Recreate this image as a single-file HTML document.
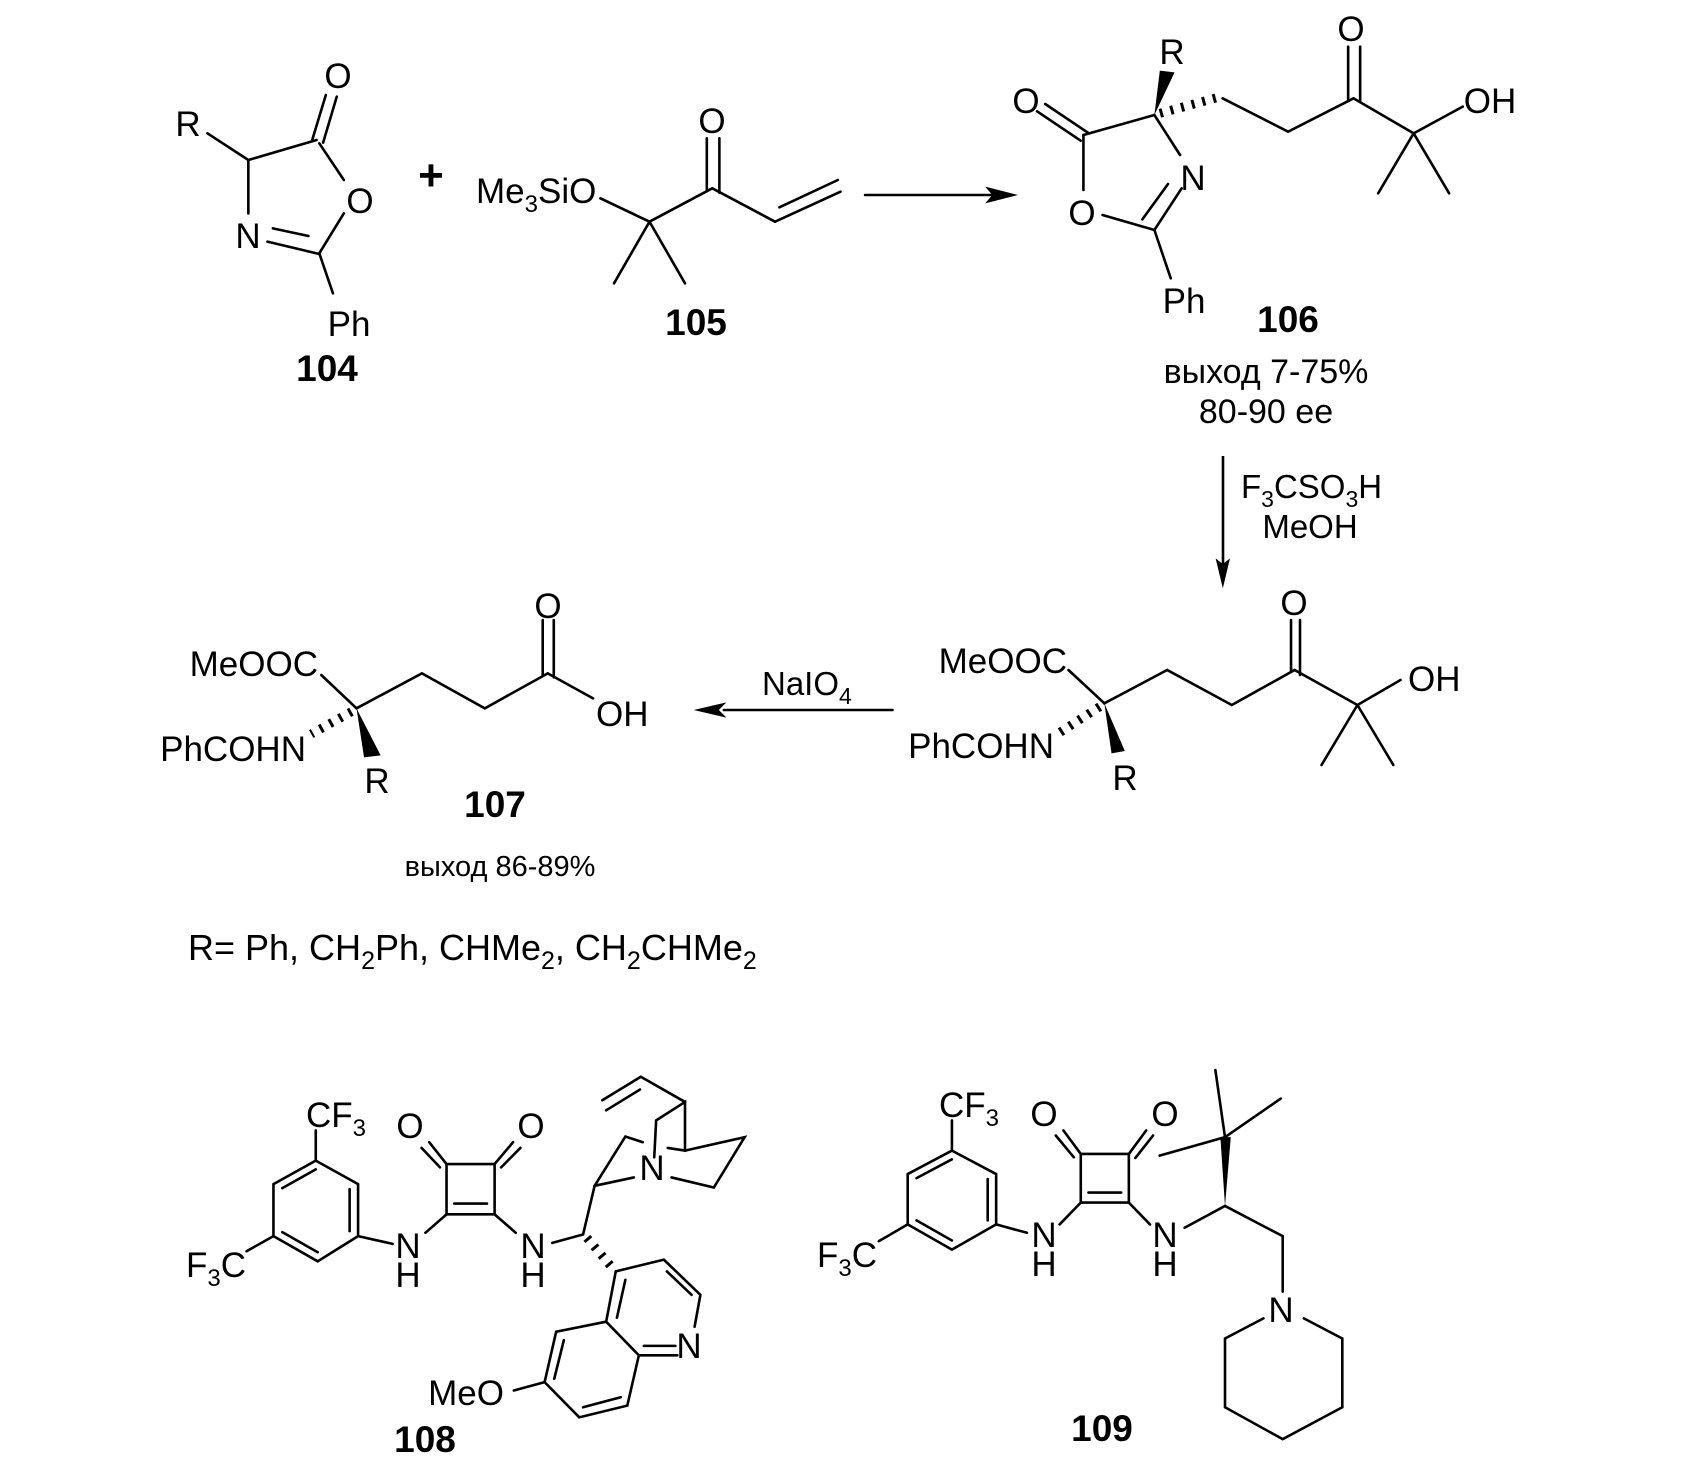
<!DOCTYPE html>
<html><head><meta charset="utf-8"><style>
html,body{margin:0;padding:0;background:#fff}
svg text{font-family:"Liberation Sans",Arial,sans-serif;fill:#000}
.l line,.l polyline,.l polygon.o{stroke:#000;stroke-width:2.6;fill:none;vector-effect:non-scaling-stroke;stroke-linecap:round}
.l .h{stroke-dasharray:3 8;stroke-width:9;stroke-linecap:butt}
.f{fill:#000;stroke:none}
.b{font-weight:bold}
</style></head><body>
<svg width="1692" height="1468" viewBox="0 0 1692 1468" xmlns="http://www.w3.org/2000/svg">

<!-- R1: 104 + 105 -->
<svg x="0" y="0" width="846" height="500" viewBox="0 0 1550 1500" preserveAspectRatio="none" class="l">
<line x1="380" y1="400" x2="455" y2="480"/>
<line x1="455" y1="480" x2="580" y2="420"/>
<line x1="572" y1="420" x2="597" y2="285"/>
<line x1="592" y1="428" x2="617" y2="290"/>
<line x1="585" y1="430" x2="630" y2="540"/>
<line x1="630" y1="640" x2="585" y2="760"/>
<line x1="490" y1="725" x2="585" y2="762"/>
<line x1="500" y1="685" x2="565" y2="708"/>
<line x1="455" y1="640" x2="455" y2="480"/>
<line x1="585" y1="760" x2="610" y2="880"/>
<line x1="1100" y1="595" x2="1190" y2="665"/>
<line x1="1190" y1="665" x2="1125" y2="850"/>
<line x1="1190" y1="665" x2="1255" y2="850"/>
<line x1="1190" y1="665" x2="1305" y2="565"/>
<line x1="1295" y1="568" x2="1295" y2="415"/>
<line x1="1318" y1="578" x2="1318" y2="415"/>
<line x1="1305" y1="565" x2="1420" y2="665"/>
<line x1="1420" y1="665" x2="1540" y2="575"/>
<line x1="1428" y1="622" x2="1535" y2="540"/>
</svg>
<text x="188" y="136" font-size="35" text-anchor="middle">R</text>
<text x="338" y="88" font-size="35" text-anchor="middle">O</text>
<text x="360" y="213" font-size="35" text-anchor="middle">O</text>
<text x="248" y="248" font-size="35" text-anchor="middle">N</text>
<text x="349" y="336" font-size="35" text-anchor="middle">Ph</text>
<text x="327" y="381" font-size="37" text-anchor="middle" class="b">104</text>
<text x="431" y="190" font-size="44" text-anchor="middle" class="b">+</text>
<text x="476" y="203" font-size="35">Me<tspan font-size="24" dy="9">3</tspan><tspan dy="-9">SiO</tspan></text>
<text x="712" y="133" font-size="35" text-anchor="middle">O</text>
<text x="696" y="335" font-size="37" text-anchor="middle" class="b">105</text>

<!-- R2: arrow + 106 -->
<svg x="846" y="0" width="846" height="500" viewBox="0 0 1550 1500" preserveAspectRatio="none" class="l">
<line x1="35" y1="585" x2="270" y2="585"/>
<polygon class="f" points="315,585 255,560 268,585 255,610"/>
<polygon class="f" points="565,345 575,212 602,217"/>
<line class="h" x1="575" y1="340" x2="682" y2="292"/>
<polyline points="690,295 810,395 930,295"/>
<line x1="920" y1="300" x2="920" y2="140"/>
<line x1="942" y1="305" x2="942" y2="140"/>
<polyline points="930,295 1040,400 1130,320"/>
<line x1="1040" y1="400" x2="975" y2="580"/>
<line x1="1040" y1="400" x2="1105" y2="580"/>
<line x1="435" y1="405" x2="565" y2="345"/>
<line x1="445" y1="400" x2="365" y2="312"/>
<line x1="430" y1="422" x2="350" y2="334"/>
<line x1="435" y1="405" x2="435" y2="570"/>
<line x1="470" y1="645" x2="565" y2="690"/>
<line x1="565" y1="690" x2="615" y2="565"/>
<line x1="543" y1="658" x2="590" y2="552"/>
<line x1="612" y1="465" x2="565" y2="345"/>
<line x1="565" y1="690" x2="595" y2="835"/>
</svg>
<text x="1172" y="64" font-size="35" text-anchor="middle">R</text>
<text x="1026" y="113" font-size="35" text-anchor="middle">O</text>
<text x="1082" y="225" font-size="35" text-anchor="middle">O</text>
<text x="1193" y="190" font-size="35" text-anchor="middle">N</text>
<text x="1351" y="41" font-size="35" text-anchor="middle">O</text>
<text x="1490" y="113" font-size="35" text-anchor="middle">OH</text>
<text x="1184" y="313" font-size="35" text-anchor="middle">Ph</text>
<text x="1288" y="332" font-size="37" text-anchor="middle" class="b">106</text>
<text x="1266" y="383" font-size="34" text-anchor="middle">выход 7-75%</text>
<text x="1266" y="423" font-size="34" text-anchor="middle">80-90 ee</text>

<!-- vertical arrow -->
<line x1="1223" y1="456" x2="1223" y2="578" stroke="#000" stroke-width="2.6"/>

<!-- R6: intermediate -->
<svg x="880" y="440" width="560" height="380" viewBox="0 0 1560 1140" preserveAspectRatio="none" class="l">
<polygon class="f" points="955,445 935,355 955,372 975,355"/>
<line x1="525" y1="690" x2="625" y2="790"/>
<line class="h" x1="612" y1="800" x2="500" y2="878"/>
<polygon class="f" points="625,790 645,940 682,933"/>
<polyline points="625,790 800,690 980,795 1155,690 1330,795"/>
<line x1="1145" y1="695" x2="1145" y2="540"/>
<line x1="1170" y1="705" x2="1170" y2="540"/>
<line x1="1330" y1="795" x2="1450" y2="720"/>
<line x1="1330" y1="795" x2="1230" y2="975"/>
<line x1="1330" y1="795" x2="1430" y2="975"/>
</svg>
<text x="1241" y="498" font-size="33">F<tspan font-size="23" dy="9">3</tspan><tspan dy="-9">CSO</tspan><tspan font-size="23" dy="9">3</tspan><tspan dy="-9">H</tspan></text>
<text x="1310" y="538" font-size="33" text-anchor="middle">MeOH</text>
<text x="1067" y="673" font-size="35" text-anchor="end">MeOOC</text>
<text x="1054" y="758" font-size="35" text-anchor="end">PhCOHN</text>
<text x="1125" y="790" font-size="35" text-anchor="middle">R</text>
<text x="1294" y="615" font-size="35" text-anchor="middle">O</text>
<text x="1408" y="691" font-size="35">OH</text>

<!-- R5: NaIO4 arrow + 107 -->
<svg x="120" y="560" width="780" height="420" viewBox="0 0 1550 1260" preserveAspectRatio="none" class="l">
<line x1="1535" y1="450" x2="1200" y2="450"/>
<polygon class="f" points="1140,450 1205,427 1190,450 1205,473"/>
<line x1="400" y1="345" x2="470" y2="445"/>
<line class="h" x1="460" y1="455" x2="380" y2="522"/>
<polygon class="f" points="470,445 485,592 518,586"/>
<polyline points="470,445 600,340 725,445 850,340"/>
<line x1="840" y1="345" x2="840" y2="180"/>
<line x1="862" y1="352" x2="862" y2="180"/>
<line x1="850" y1="340" x2="940" y2="415"/>
</svg>
<text x="762" y="695" font-size="33">NaIO<tspan font-size="23" dy="9">4</tspan></text>
<text x="318" y="676" font-size="35" text-anchor="end">MeOOC</text>
<text x="306" y="761" font-size="35" text-anchor="end">PhCOHN</text>
<text x="377" y="793" font-size="35" text-anchor="middle">R</text>
<text x="548" y="618" font-size="35" text-anchor="middle">O</text>
<text x="596" y="726" font-size="35">OH</text>
<text x="495" y="817" font-size="37" text-anchor="middle" class="b">107</text>
<text x="500" y="876" font-size="29" text-anchor="middle">выход 86-89%</text>
<text x="188" y="960" font-size="36">R= Ph, CH<tspan font-size="25" dy="9">2</tspan><tspan dy="-9">Ph, CHMe</tspan><tspan font-size="25" dy="9">2</tspan><tspan dy="-9">, CH</tspan><tspan font-size="25" dy="9">2</tspan><tspan dy="-9">CHMe</tspan><tspan font-size="25" dy="9">2</tspan></text>

<!-- R3: 108 -->
<svg x="160" y="1060" width="600" height="408" viewBox="0 0 1560 1216" preserveAspectRatio="none" class="l">
<polygon class="o" points="405,300 515,370 515,525 410,600 295,525 295,370"/>
<line x1="318" y1="382" x2="405" y2="326"/>
<line x1="493" y1="385" x2="493" y2="510"/>
<line x1="318" y1="513" x2="410" y2="573"/>
<line x1="405" y1="300" x2="405" y2="210"/>
<line x1="295" y1="525" x2="225" y2="570"/>
<line x1="515" y1="525" x2="605" y2="548"/>
<line x1="690" y1="515" x2="745" y2="460"/>
<polygon class="o" points="745,460 870,460 870,310 745,310"/>
<line x1="765" y1="428" x2="850" y2="428"/>
<line x1="745" y1="310" x2="700" y2="245"/>
<line x1="728" y1="320" x2="680" y2="262"/>
<line x1="870" y1="310" x2="918" y2="245"/>
<line x1="887" y1="320" x2="937" y2="262"/>
<line x1="870" y1="460" x2="925" y2="515"/>
<polyline points="1020,545 1100,520 1130,375"/>
<line class="h" x1="1110" y1="530" x2="1180" y2="625"/>
<line x1="1130" y1="375" x2="1232" y2="350"/>
<polyline points="1130,375 1210,228 1255,245"/>
<polyline points="1285,290 1290,180 1365,125 1365,270 1320,262"/>
<polyline points="1365,270 1520,230 1440,380 1330,350"/>
<polyline points="1365,125 1250,50 1150,120"/>
<line x1="1160" y1="150" x2="1248" y2="88"/>
<polyline points="1185,630 1310,595 1405,700 1390,795"/>
<line x1="1318" y1="630" x2="1382" y2="700"/>
<line x1="1345" y1="880" x2="1245" y2="880"/>
<line x1="1340" y1="852" x2="1258" y2="852"/>
<polyline points="1185,630 1160,780 1245,880 1215,1030 1090,1065 1000,960 1030,810 1160,780"/>
<line x1="1210" y1="655" x2="1188" y2="768"/>
<line x1="1050" y1="835" x2="1025" y2="950"/>
<line x1="1100" y1="1035" x2="1198" y2="1005"/>
<line x1="1000" y1="960" x2="920" y2="985"/>
</svg>
<text x="306" y="1127" font-size="35">CF<tspan font-size="24" dy="9">3</tspan></text>
<text x="246" y="1277" font-size="35" text-anchor="end">F<tspan font-size="24" dy="9">3</tspan><tspan dy="-9">C</tspan></text>
<text x="408" y="1258" font-size="35" text-anchor="middle">N</text>
<text x="408" y="1287" font-size="35" text-anchor="middle">H</text>
<text x="533" y="1258" font-size="35" text-anchor="middle">N</text>
<text x="533" y="1287" font-size="35" text-anchor="middle">H</text>
<text x="410" y="1138" font-size="35" text-anchor="middle">O</text>
<text x="531" y="1138" font-size="35" text-anchor="middle">O</text>
<text x="652" y="1180" font-size="35" text-anchor="middle">N</text>
<text x="689" y="1358" font-size="35" text-anchor="middle">N</text>
<text x="504" y="1405" font-size="35" text-anchor="end">MeO</text>
<text x="425" y="1452" font-size="37" text-anchor="middle" class="b">108</text>

<!-- R4: 109 -->
<svg x="800" y="1060" width="600" height="408" viewBox="0 0 1560 1216" preserveAspectRatio="none" class="l">
<polygon class="o" points="395,270 510,340 510,490 395,565 280,490 280,340"/>
<line x1="303" y1="352" x2="395" y2="296"/>
<line x1="488" y1="355" x2="488" y2="478"/>
<line x1="303" y1="478" x2="395" y2="538"/>
<line x1="395" y1="270" x2="395" y2="180"/>
<line x1="280" y1="490" x2="205" y2="540"/>
<line x1="510" y1="490" x2="590" y2="515"/>
<line x1="675" y1="490" x2="730" y2="425"/>
<polygon class="o" points="730,425 855,425 855,280 730,280"/>
<line x1="750" y1="395" x2="835" y2="395"/>
<line x1="730" y1="280" x2="685" y2="210"/>
<line x1="712" y1="290" x2="665" y2="225"/>
<line x1="855" y1="280" x2="900" y2="210"/>
<line x1="872" y1="292" x2="918" y2="225"/>
<line x1="855" y1="425" x2="910" y2="490"/>
<line x1="1000" y1="500" x2="1105" y2="435"/>
<polygon class="f" points="1105,435 1093,230 1120,230"/>
<line x1="1105" y1="230" x2="1080" y2="30"/>
<line x1="1105" y1="230" x2="1250" y2="115"/>
<line x1="1105" y1="230" x2="935" y2="285"/>
<polyline points="1105,435 1255,525 1255,690"/>
<polyline points="1205,770 1105,830 1105,1035 1255,1130 1410,1035 1410,830 1310,770"/>
</svg>
<text x="969" y="1117" font-size="35" text-anchor="middle">CF<tspan font-size="24" dy="9">3</tspan></text>
<text x="877" y="1267" font-size="35" text-anchor="end">F<tspan font-size="24" dy="9">3</tspan><tspan dy="-9">C</tspan></text>
<text x="1044" y="1247" font-size="35" text-anchor="middle">N</text>
<text x="1044" y="1276" font-size="35" text-anchor="middle">H</text>
<text x="1165" y="1247" font-size="35" text-anchor="middle">N</text>
<text x="1165" y="1276" font-size="35" text-anchor="middle">H</text>
<text x="1044" y="1126" font-size="35" text-anchor="middle">O</text>
<text x="1165" y="1126" font-size="35" text-anchor="middle">O</text>
<text x="1281" y="1322" font-size="35" text-anchor="middle">N</text>
<text x="1102" y="1441" font-size="37" text-anchor="middle" class="b">109</text>
</svg>
</body></html>
